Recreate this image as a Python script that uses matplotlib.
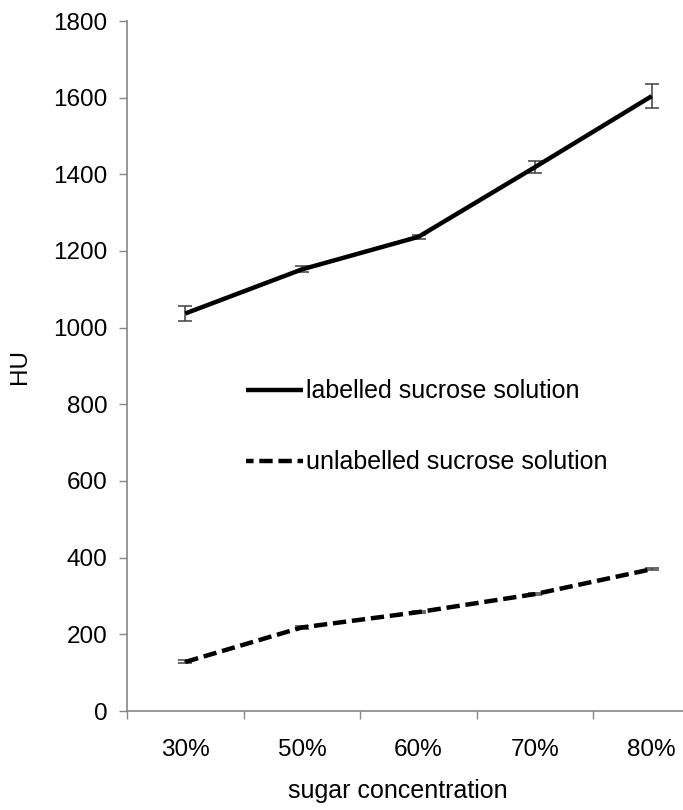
import matplotlib

matplotlib.use("Agg")
import matplotlib.pyplot as plt
from matplotlib.lines import Line2D
import numpy as np

plt.rcParams["font.family"] = ["Liberation Sans", "DejaVu Sans"]

# data
categories = ["30%", "50%", "60%", "70%", "80%"]
labelled = [1037, 1152, 1237, 1419, 1604]
labelled_err = [20, 8, 5, 15, 32]
unlabelled = [128, 218, 258, 305, 370]
unlabelled_err = [4, 3, 3, 3, 3]

GRAY = "#868686"
DASH = (0, (3.0, 1.3))
FS = 17.5
W, H = 683, 810

fig = plt.figure(figsize=(W / 100, H / 100), dpi=100)
# axes runs past the right edge, like the cropped original
left, right, bottom, top = 127, 710, 711, 21
ax = fig.add_axes([left / W, 1 - bottom / H, (right - left) / W, (bottom - top) / H])

x = np.arange(len(categories))
ax.errorbar(x, labelled, yerr=labelled_err, color="black", lw=3.2,
            ecolor="#404040", elinewidth=1.1, capsize=5, capthick=1.1,
            solid_capstyle="butt")
ax.errorbar(x, unlabelled, yerr=unlabelled_err, color="black", lw=3.2,
            ls=DASH, ecolor="#404040", elinewidth=1.1, capsize=5,
            capthick=1.1)

ax.set_xlim(-0.5, len(categories) - 0.5)
ax.set_ylim(0, 1800)
ax.set_yticks(range(0, 1801, 200))
ax.set_xticks(x)
ax.set_xticklabels(categories)
ax.set_xticks(np.arange(-0.5, len(categories)), minor=True)
ax.tick_params(axis="x", which="major", length=0, pad=20, labelsize=FS)
ax.tick_params(axis="x", which="minor", length=6, color=GRAY, width=1)
ax.tick_params(axis="y", length=6, color=GRAY, width=1, labelsize=FS, pad=8)

for s in ("top", "right"):
    ax.spines[s].set_visible(False)
for s in ("left", "bottom"):
    ax.spines[s].set_color(GRAY)
    ax.spines[s].set_linewidth(1.2)

ax.set_ylabel("HU", fontsize=FS, labelpad=16)
fig.text(398 / W, 1 - 791 / H, "sugar concentration", fontsize=18,
         ha="center", va="center")

handles = [
    Line2D([], [], color="black", lw=3.2, solid_capstyle="butt"),
    Line2D([], [], color="black", lw=3.2, ls=(1.3, (3.0, 1.3))),
]
ax.legend(handles, ["labelled sucrose solution", "unlabelled sucrose solution"],
          loc="upper left",
          bbox_to_anchor=((223 - left) / (right - left), (711 - 357) / 690),
          frameon=False, fontsize=18, handlelength=2.3, handletextpad=0.1,
          labelspacing=1.87)

fig.savefig("out.png", dpi=100)
